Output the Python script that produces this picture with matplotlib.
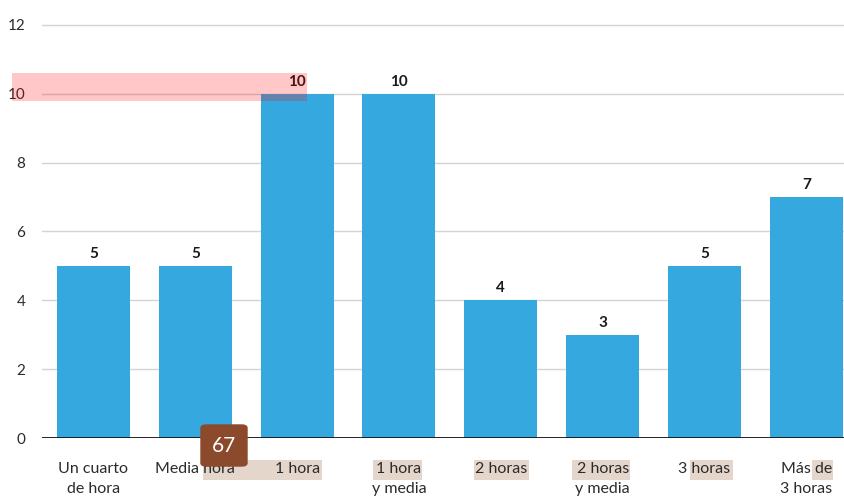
import matplotlib.pyplot as plt
from matplotlib.patches import Rectangle, FancyBboxPatch

categories = ['Un cuarto\nde hora', 'Media hora', '1 hora', '1 hora\ny media',
              '2 horas', '2 horas\ny media', '3 horas', 'Más de\n3 horas']
values = [5, 5, 10, 10, 4, 3, 5, 7]
yticks = [0, 2, 4, 6, 8, 10, 12]

W, H = 844, 499
plt.rcParams['font.family'] = ['Lato', 'DejaVu Sans']

fig = plt.figure(figsize=(W / 100, H / 100), dpi=100)
ax = fig.add_axes([42 / W, (H - 438) / H, (W - 42) / W, (438 - 20) / H])

x = range(len(values))
ax.bar(x, values, width=0.716, color='#36a8e0', zorder=2)
for i, v in enumerate(values):
    ax.annotate(str(v), (i, v), xytext=(0, 3.5), textcoords='offset points',
                ha='center', va='bottom', fontsize=11, fontweight='bold', color='#1a1a1a')

ax.set_xlim(-0.505, 7.37)
ax.set_ylim(0, 12.145)
ax.set_yticks(yticks)
ax.yaxis.grid(True, color='#d4d4d4', linewidth=1)
ax.set_axisbelow(True)
ax.axhline(0, color='#111111', linewidth=2, zorder=3)
for s in ax.spines.values():
    s.set_visible(False)
ax.tick_params(axis='y', length=0, pad=12, labelsize=11, labelcolor='#2b2b2b')
ax.set_xticks(list(x))
ax.set_xticklabels(categories, fontsize=11.5, color='#2b2b2b', linespacing=1.6)
ax.tick_params(axis='x', length=0, pad=17)

# highlight marks seen on the reference
def px_rect(x0, y0, x1, y1, **kw):
    fig.add_artist(Rectangle((x0 / W, 1 - y1 / H), (x1 - x0) / W, (y1 - y0) / H,
                             transform=fig.transFigure, **kw))

beige = '#e5d6cc'
for x0, x1 in [(203, 322), (373, 422), (474, 529), (572, 630), (690, 733), (812, 833)]:
    px_rect(x0, 460, x1, 480, color=beige, zorder=-1, lw=0)
px_rect(12, 73, 307, 101, color='#ff0000', alpha=0.22, lw=0, zorder=10)

fig.add_artist(FancyBboxPatch((201 / W, 1 - 466 / H), 46 / W, 41 / H,
                              boxstyle='round,pad=0,rounding_size=0.006',
                              transform=fig.transFigure, color='#8b4a2b', zorder=11))
fig.text(224 / W, 1 - 446 / H, '67', color='white', fontsize=15,
         ha='center', va='center', zorder=12)

fig.savefig('out.png', dpi=100)
